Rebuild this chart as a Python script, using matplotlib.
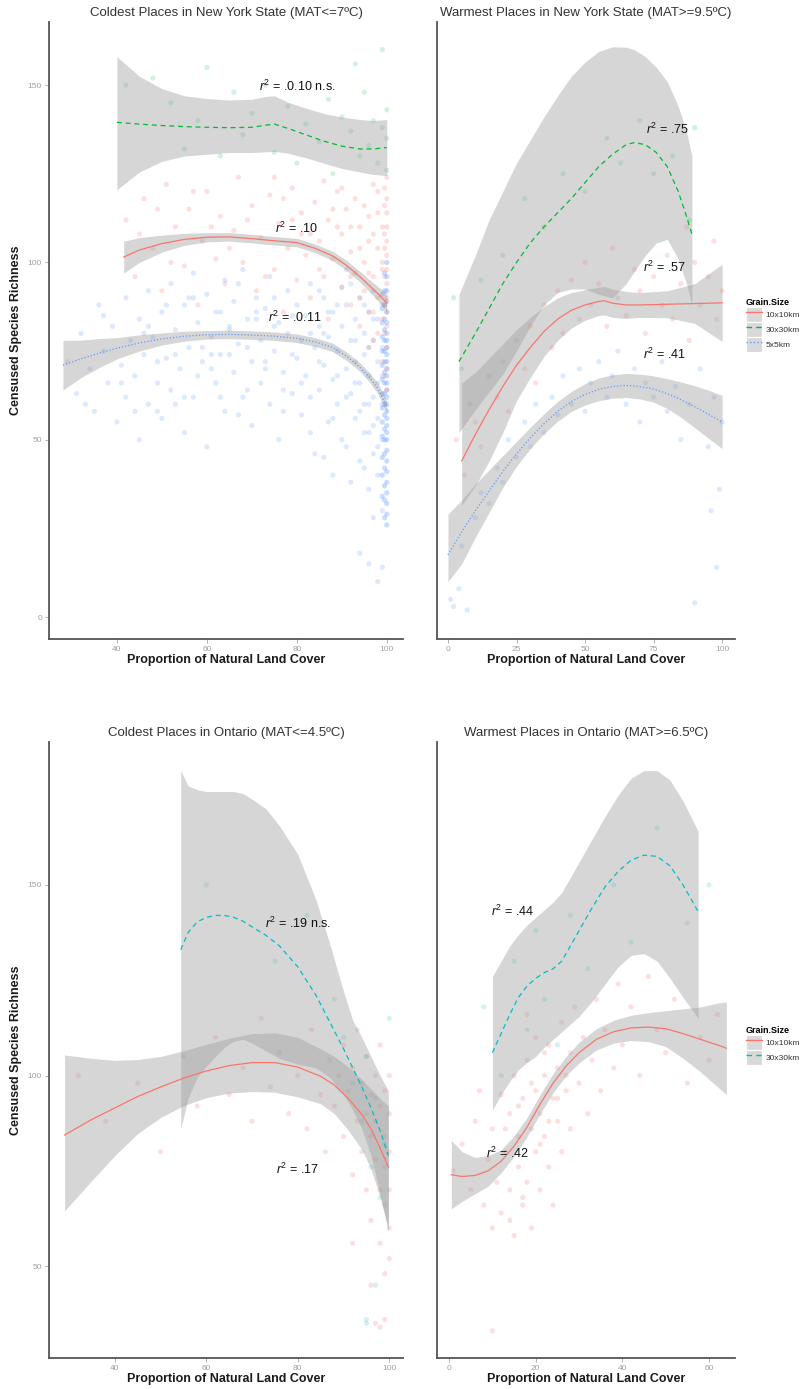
import matplotlib
matplotlib.use("Agg")
import matplotlib.pyplot as plt
from matplotlib.patches import Rectangle
from matplotlib.lines import Line2D

plt.rcParams["font.family"] = ["Liberation Sans", "DejaVu Sans"]
plt.rcParams["mathtext.fontset"] = "custom"
plt.rcParams["mathtext.rm"] = "Liberation Sans"
plt.rcParams["mathtext.it"] = "Liberation Sans:italic"

RED, GREEN, BLUE, CYAN = "#F8766D", "#00BA38", "#619CFF", "#00BFC4"

# ---------------- Coldest places, New York State ----------------
nyc_5_x = [29, 31, 32, 34, 35, 36, 37, 38, 39, 40, 41, 42, 42, 43, 44, 45, 45, 46, 47, 47,
           48, 49, 50, 50, 51, 52, 52, 53, 54, 55, 55, 56, 57, 57, 58, 59, 60, 60, 61, 62,
           62, 63, 64, 64, 65, 66, 66, 67, 68, 68, 69, 70, 70, 71, 72, 72, 73, 74, 74, 75,
           76, 76, 77, 78, 78, 79, 80, 80, 81, 82, 82, 83, 84, 84, 85, 85, 86, 86, 87, 87,
           88, 88, 89, 89, 90, 90, 90, 91, 91, 92, 92, 93, 93, 93, 94, 94, 94, 95, 95, 95,
           96, 96, 96, 96, 97, 97, 97, 97, 98, 98, 98, 98, 98, 99, 99, 99, 99, 99, 99, 94,
           96, 98, 99, 92, 95, 97, 91, 88, 86, 83,
           33, 37, 41, 44, 46, 49, 53, 56, 58, 61, 63, 65, 67, 69, 71, 73, 75, 77, 79, 81,
           83, 85, 86, 88, 89, 91, 92, 93, 94, 95, 96, 97, 98, 97, 96, 95, 93, 91, 89, 87,
           85, 83, 81, 79, 77, 75, 73, 71, 69, 67, 65, 63, 61, 59, 57, 55, 53, 51, 49, 47]
nyc_5_y = [72, 63, 80, 70, 58, 88, 75, 66, 82, 55, 71, 90, 62, 78, 68, 84, 50, 74, 92, 60,
           79, 66, 86, 56, 73, 94, 64, 81, 70, 88, 52, 76, 97, 62, 83, 72, 91, 48, 79, 66,
           86, 74, 95, 58, 81, 69, 89, 77, 62, 98, 84, 72, 54, 90, 78, 66, 87, 60, 96, 75,
           83, 50, 69, 92, 80, 63, 88, 73, 57, 85, 68, 94, 76, 46, 82, 64, 90, 71, 55, 79,
           86, 67, 75, 60, 93, 82, 50, 70, 88, 63, 78, 84, 56, 72, 90, 66, 44, 80, 60, 74,
           86, 52, 68, 36, 78, 62, 92, 46, 72, 84, 56, 66, 40, 76, 60, 88, 50, 68, 30, 18,
           15, 10, 14, 38, 42, 28, 48, 40, 45, 52,
           60, 85, 66, 58, 80, 72, 60, 90, 68, 74, 62, 82, 57, 76, 86, 72, 90, 64, 85, 78,
           62, 72, 80, 56, 88, 62, 94, 66, 58, 52, 76, 84, 48, 54, 60, 88, 78, 98, 68, 86,
           92, 80, 66, 74, 58, 82, 70, 84, 64, 94, 74, 86, 70, 76, 90, 62, 74, 88, 58, 82]
nyc_5_edge_x = [100, 100, 100, 100, 100, 100, 100, 100, 100, 100, 100, 100, 100, 100, 100,
                100, 100, 100, 100, 100, 100, 100, 100, 100, 100, 100, 100, 100, 100, 100,
                99.5, 99.5, 99.5, 99.5, 99.5, 99.5, 99.5, 99.5, 99.5, 99.5, 99.5, 99.5,
                99.5, 99.5, 99.5, 99.5, 99.5, 99.5, 99.5, 99.5,
                99, 99, 99, 99, 99, 99, 99, 99, 99, 99, 99, 99, 99, 99]
nyc_5_edge_y = [26, 29, 32, 35, 38, 41, 44, 47, 50, 52, 54, 56, 58, 60, 62,
                64, 66, 68, 70, 72, 74, 76, 78, 80, 83, 86, 89, 92, 96, 100,
                28, 33, 37, 42, 46, 50, 53, 57, 60, 63, 66, 69, 72, 75, 78, 81,
                84, 88, 92, 97,
                34, 40, 45, 51, 55, 59, 63, 67, 71, 75, 79, 83, 87, 91]

nyc_10_x = [42, 44, 46, 48, 50, 51, 53, 55, 56, 58, 59, 60, 62, 63, 64, 66, 67, 68, 70, 71,
            72, 74, 75, 76, 77, 78, 79, 80, 81, 82, 83, 84, 85, 86, 87, 87, 88, 89, 90, 90,
            91, 92, 92, 93, 93, 94, 94, 95, 95, 96, 96, 96, 97, 97, 97, 98, 98, 98, 99, 99,
            99, 99, 100, 100, 100, 100, 100, 100, 100, 100, 100, 100, 100, 100, 100, 100,
            99.5, 99.5, 99.5, 99.5, 99.5, 99.5, 99.5, 99.5,
            45, 49, 52, 57, 61, 65, 69, 73, 77, 81, 85, 88, 90, 92, 94, 95, 96, 97, 98, 99,
            98, 97, 96, 94, 92, 89, 86, 83, 79, 75]
nyc_10_y = [112, 96, 118, 104, 92, 122, 110, 99, 115, 88, 106, 120, 101, 113, 94, 109, 124,
            100, 116, 92, 107, 119, 98, 111, 86, 104, 121, 95, 114, 102, 90, 117, 106, 96,
            112, 84, 101, 120, 93, 108, 115, 88, 103, 97, 118, 110, 82, 100, 92, 113, 86, 106,
            96, 122, 78, 104, 90, 114, 84, 98, 110, 72, 64, 70, 76, 82, 86, 90, 94, 98, 102,
            106, 110, 114, 118, 124, 68, 80, 88, 96, 104, 108, 116, 121,
            108, 115, 100, 120, 110, 104, 112, 96, 118, 108, 98, 115, 121, 110, 104, 116, 97,
            108, 120, 100, 80, 86, 76, 90, 96, 110, 123, 108, 112, 124]

nyc_30_x = [42, 48, 52, 55, 58, 60, 63, 66, 68, 70, 73, 75, 78, 80, 82, 85, 87, 88, 90, 92,
            94, 95, 96, 97, 98, 99, 100, 100, 100, 99, 93]
nyc_30_y = [150, 152, 145, 132, 140, 155, 130, 148, 136, 142, 150, 131, 144, 128, 139, 134,
            146, 125, 141, 137, 130, 148, 133, 140, 128, 138, 135, 143, 126, 160, 156]

# smoothed fits with confidence bands: x, fit, lower, upper
nyc_30_fx = [40, 45, 50, 55, 60, 65, 70, 73, 75, 78, 82, 86, 90, 94, 97, 100]
nyc_30_fy = [139.5, 139.0, 138.6, 138.3, 138.1, 138.0, 138.1, 138.7, 139.0, 137.8, 136.0,
             134.2, 132.8, 132.0, 132.0, 132.4]
nyc_30_lo = [120.5, 125.5, 128.5, 130.0, 130.5, 131.0, 131.0, 131.2, 131.3, 130.8, 129.5,
             128.0, 126.5, 125.5, 124.8, 124.5]
nyc_30_hi = [158.0, 152.5, 149.0, 147.0, 146.2, 145.8, 146.0, 146.8, 147.0, 145.2, 143.5,
             142.0, 141.0, 140.3, 140.0, 140.3]

nyc_10_fx = [41.5, 45, 50, 55, 60, 65, 70, 75, 80, 84, 88, 91, 94, 96, 98, 100]
nyc_10_fy = [101.5, 103.5, 105.3, 106.5, 107.1, 107.2, 106.7, 106.1, 105.6, 104.0, 101.8,
             99.2, 96.0, 93.6, 91.2, 88.6]
nyc_10_lo = [97.0, 100.0, 102.9, 104.8, 105.8, 106.0, 105.5, 104.9, 104.4, 102.8, 100.5,
             97.8, 94.5, 91.9, 89.2, 86.0]
nyc_10_hi = [106.0, 107.0, 107.7, 108.2, 108.4, 108.4, 107.9, 107.3, 106.8, 105.2, 103.1,
             100.6, 97.5, 95.3, 93.2, 91.2]

nyc_5_fx = [28, 32, 36, 40, 45, 50, 55, 60, 65, 70, 75, 80, 84, 88, 91, 94, 96, 98, 100]
nyc_5_fy = [71.0, 72.8, 74.4, 75.8, 77.3, 78.4, 79.2, 79.6, 79.7, 79.5, 79.2, 78.6, 77.6,
            76.0, 73.6, 70.5, 67.8, 64.5, 59.2]
nyc_5_lo = [64.0, 67.5, 70.3, 72.8, 75.0, 76.7, 77.8, 78.4, 78.5, 78.3, 78.0, 77.4, 76.4,
            74.8, 72.4, 69.3, 66.5, 63.0, 57.5]
nyc_5_hi = [78.0, 78.1, 78.5, 78.8, 79.6, 80.1, 80.6, 80.8, 80.9, 80.7, 80.4, 79.8, 78.8,
            77.2, 74.8, 71.7, 69.1, 66.0, 60.9]

# ---------------- Warmest places, New York State ----------------
nyw_5_x = [1, 2, 4, 7, 5, 10, 12, 15, 18, 20, 22, 25, 28, 30, 32, 35, 38, 40, 42, 45, 48, 50,
           52, 55, 58, 60, 62, 65, 68, 70, 72, 75, 78, 80, 83, 85, 88, 90, 92, 95, 97, 98,
           100, 96, 99]
nyw_5_y = [5, 3, 8, 2, 20, 28, 35, 32, 42, 38, 50, 45, 55, 48, 60, 52, 62, 57, 68, 60, 70, 58,
           66, 72, 62, 68, 75, 60, 70, 55, 66, 62, 72, 58, 65, 50, 60, 4, 70, 48, 62, 14, 55,
           30, 36]
nyw_10_x = [3, 6, 8, 10, 12, 15, 18, 20, 22, 25, 28, 30, 32, 35, 38, 40, 42, 45, 48, 50, 52,
            55, 58, 60, 62, 65, 68, 70, 72, 75, 78, 80, 82, 85, 88, 90, 92, 95, 98, 100, 97,
            87]
nyw_10_y = [50, 40, 60, 55, 48, 68, 62, 72, 58, 78, 70, 82, 66, 88, 76, 92, 80, 95, 84, 100,
            88, 94, 82, 104, 90, 85, 98, 92, 80, 96, 88, 102, 84, 94, 78, 100, 88, 96, 84, 92,
            106, 110]
nyw_30_x = [2, 5, 12, 20, 28, 35, 42, 50, 58, 63, 70, 75, 82, 88, 90]
nyw_30_y = [90, 70, 95, 102, 118, 110, 125, 120, 135, 128, 140, 125, 130, 112, 138]

nyw_30_fx = [4, 10, 15, 20, 25, 30, 35, 40, 45, 50, 55, 60, 65, 68, 72, 76, 80, 84, 87, 89]
nyw_30_fy = [72, 80, 87, 94, 100, 105.5, 110, 114, 118, 122.5, 127, 130.5, 133.2, 133.8,
             133.2, 131, 127, 120, 113, 108]
nyw_30_lo = [52, 58.5, 63.5, 68.5, 75, 82, 88, 91.5, 92.5, 92.5, 91, 90, 94, 97.5, 102, 105.5,
             106.5, 101, 94, 88]
nyw_30_hi = [91, 102, 112, 120, 128, 134.5, 141, 147, 152.5, 156.5, 159.5, 160.8, 160.7, 160,
             158, 155, 151, 144, 137, 130]

nyw_10_fx = [5, 10, 15, 20, 25, 30, 35, 40, 45, 50, 55, 57, 60, 65, 70, 80, 90, 100]
nyw_10_fy = [44, 51.5, 58.5, 65, 71, 76, 80.5, 84, 86.5, 88, 89, 89.2, 88.5, 88, 88, 88.2,
             88.4, 88.6]
nyw_10_lo = [31.5, 37, 44, 52, 61, 67.5, 73.5, 78, 81.5, 83.7, 85, 85.2, 84.5, 84.2, 84.5,
             84.4, 82.8, 77.7]
nyw_10_hi = [66, 69, 73, 77, 81, 84.5, 87.5, 90, 91.5, 92.3, 93, 93.2, 92.5, 91.8, 91.5, 92,
             94, 99.5]

nyw_5_fx = [0, 5, 10, 15, 20, 25, 30, 35, 40, 45, 50, 55, 60, 65, 70, 75, 80, 85, 90, 95, 100]
nyw_5_fy = [17.5, 24, 30, 35.5, 41, 46, 50.5, 54.5, 58, 60.8, 62.8, 64.2, 65, 65.3, 65, 64.3,
            63, 61.3, 59.3, 57.2, 55]
nyw_5_lo = [10, 15, 22.5, 29.5, 36.5, 42.5, 47.5, 51.7, 55.2, 58, 59.8, 61, 61.7, 61.9, 61.5,
            60.6, 58.8, 56.3, 53.4, 50.4, 47.5]
nyw_5_hi = [29, 33, 37.5, 41.5, 45.5, 49.5, 53.5, 57.3, 60.8, 63.6, 65.8, 67.4, 68.3, 68.7,
            68.5, 68, 67.2, 66.3, 65.2, 64, 62.5]

# ---------------- Coldest places, Ontario ----------------
onc_10_x = [32, 38, 45, 50, 55, 58, 62, 65, 68, 70, 72, 74, 76, 78, 80, 82, 83, 85, 86, 87,
            88, 89, 90, 90, 91, 92, 92, 93, 93, 94, 94, 95, 95, 95, 96, 96, 96, 97, 97, 97,
            98, 98, 98, 98, 99, 99, 99, 99, 99, 99, 100, 100, 100, 100, 100, 100, 97, 98, 96,
            92]
onc_10_y = [100, 88, 98, 80, 105, 92, 110, 95, 102, 88, 115, 97, 106, 90, 100, 86, 112, 95,
            80, 104, 92, 100, 84, 108, 96, 74, 102, 88, 112, 80, 98, 90, 70, 105, 84, 95, 62,
            100, 78, 88, 92, 70, 108, 56, 84, 96, 66, 76, 48, 36, 80, 90, 100, 60, 70, 52, 35,
            34, 45, 56]
onc_30_x = [60, 75, 82, 88, 90, 92, 94, 95, 96, 97, 98, 99, 95, 95, 97, 100]
onc_30_y = [150, 130, 142, 120, 110, 98, 88, 105, 76, 94, 68, 82, 36, 35, 45, 115]

onc_10_fx = [29, 35, 40, 45, 50, 55, 60, 65, 70, 75, 80, 85, 88, 91, 94, 96, 98, 99.8]
onc_10_fy = [84.4, 88.5, 91.5, 94.5, 97, 99.3, 101.2, 102.6, 103.4, 103.4, 102.2, 99.8, 97.5,
             94, 89.8, 86, 81, 76]
onc_10_lo = [64.5, 72.5, 79, 84.8, 89, 92.1, 94.2, 95.4, 95.8, 95.6, 94.4, 92.6, 90, 85.7,
             80.6, 75.5, 68, 60]
onc_10_hi = [105.4, 104.5, 104, 104.2, 105, 106.5, 108.2, 109.8, 111, 111.2, 110, 107, 105,
             102.3, 99, 96.5, 94, 92]

onc_30_fx = [54.4, 56, 58, 60, 62, 64, 66, 68, 70, 73, 76, 80, 84, 87, 90, 92, 94, 96, 98,
             99.8]
onc_30_fy = [133, 137.5, 140.3, 141.5, 142, 142, 141.5, 140.5, 139, 136.8, 134, 128.5, 121,
             114, 107, 102, 97, 91.5, 85.5, 79]
onc_30_lo = [86, 94, 99.5, 102.5, 105, 107.5, 109, 109.5, 108.5, 106.5, 104.5, 103, 102, 99.5,
             95, 91, 86, 79, 69, 59]
onc_30_hi = [180, 176, 175, 174.5, 174.5, 174.5, 174.5, 174, 172.5, 170, 165.5, 158, 146,
             134.5, 122, 114.5, 110, 105, 100, 96]

# ---------------- Warmest places, Ontario ----------------
onw_10_x = [1, 3, 5, 6, 8, 9, 10, 10, 11, 12, 12, 13, 14, 14, 15, 15, 16, 16, 17, 17, 18, 18,
            19, 19, 20, 20, 20, 21, 21, 22, 22, 23, 23, 24, 24, 25, 25, 26, 26, 27, 28, 28, 29,
            30, 31, 32, 33, 34, 35, 36, 38, 39, 40, 42, 44, 46, 48, 50, 52, 55, 58, 60, 62,
            10, 7, 18, 13, 16, 19, 21, 23, 25, 27, 14, 17, 22]
onw_10_y = [75, 82, 70, 88, 66, 78, 60, 86, 72, 95, 64, 80, 70, 90, 58, 100, 76, 84, 66, 94,
            72, 104, 86, 60, 80, 96, 110, 70, 90, 100, 84, 76, 108, 94, 66, 88, 102, 114, 80,
            96, 106, 86, 118, 98, 110, 90, 104, 120, 96, 112, 102, 124, 108, 118, 100, 126,
            112, 106, 120, 98, 110, 104, 116, 33, 96, 116, 86, 92, 98, 82, 88, 94, 100, 62,
            68, 106]
onw_30_x = [8, 12, 15, 18, 20, 22, 25, 28, 32, 38, 42, 48, 55, 60]
onw_30_y = [118, 100, 130, 112, 138, 120, 108, 142, 128, 150, 135, 165, 140, 150]

onw_10_fx = [0.5, 3, 6, 9, 12, 15, 18, 21, 24, 27, 30, 34, 38, 42, 46, 50, 54, 58, 62, 64]
onw_10_fy = [74, 73.5, 73.8, 75, 77.5, 81.5, 86.5, 92.5, 98, 102.5, 106, 109.5, 111.5, 112.5,
             112.7, 112.3, 111, 109.5, 108, 107.2]
onw_10_lo = [65, 67, 69, 71, 74.5, 78.8, 84, 90, 95.5, 100, 103.3, 106.7, 108.5, 109.2,
             108.9, 107.6, 104.5, 101, 97, 95]
onw_10_hi = [83, 80, 78.5, 79, 80.5, 84.2, 89, 95, 100.5, 105, 108.7, 112.3, 114.5, 115.8,
             116.5, 117, 117.5, 118, 119, 119.3]

onw_30_fx = [10, 12, 14, 16, 18, 20, 22, 24, 26, 28, 30, 33, 36, 39, 42, 45, 48, 51, 54, 57.5]
onw_30_fy = [106, 111, 116, 120.5, 123.5, 125.5, 127, 128, 130, 134, 138, 144, 149.5, 153.5,
             156.5, 157.8, 157.5, 155, 150, 143]
onw_30_lo = [91, 95, 98.5, 101.5, 103.5, 105, 107.5, 109.5, 111.5, 113.5, 115.5, 119.5, 124,
             128.5, 131.5, 132, 130, 125.5, 120.5, 115]
onw_30_hi = [126, 130, 134, 137, 139.5, 141.5, 143.5, 145.5, 148, 152, 156, 162, 168, 173.5,
             178, 180, 180, 177.5, 172, 164]

W, H = 803, 1389
fig = plt.figure(figsize=(W / 100, H / 100), dpi=100)


def make_axes(px_left, px_right, px_top, px_bottom):
    return fig.add_axes([px_left / W, 1 - px_bottom / H,
                         (px_right - px_left) / W, (px_bottom - px_top) / H])


def style(ax, xlim, ylim, xticks, yticks, title, ylabel=True):
    ax.set_xlim(*xlim)
    ax.set_ylim(*ylim)
    for s in ("top", "right"):
        ax.spines[s].set_visible(False)
    for s in ("left", "bottom"):
        ax.spines[s].set_color("#555555")
        ax.spines[s].set_linewidth(1.3)
    ax.set_xticks(xticks)
    ax.set_xticklabels([str(t) for t in xticks])
    ax.tick_params(axis="both", colors="#b0b0b0", labelcolor="#a0a0a0", labelsize=6,
                   length=3, width=0.7, pad=2)
    if yticks:
        ax.set_yticks(yticks)
        ax.set_yticklabels([str(t) for t in yticks])
    else:
        ax.set_yticks([])
    ax.set_title(title, fontsize=9.5, color="#333333", pad=4)
    ax.set_xlabel("Proportion of Natural Land Cover", fontsize=9, fontweight="bold",
                  color="#1a1a1a", labelpad=1)
    if ylabel:
        ax.set_ylabel("Censused Species Richness", fontsize=9, fontweight="bold",
                      color="#1a1a1a", labelpad=4)


def points(ax, x, y, color, alpha=0.22):
    ax.scatter(x, y, s=14, color=color, alpha=alpha, edgecolors="none", zorder=1)


def smooth(ax, fx, fy, lo, hi, color, ls):
    ax.fill_between(fx, lo, hi, color="#9a9a9a", alpha=0.4, linewidth=0, zorder=2)
    ax.plot(fx, fy, color=color, lw=0.9, ls=ls, zorder=3)


def r2(ax, x, y, txt):
    ax.text(x, y, r"$r^2$ = " + txt, fontsize=9, ha="center", va="center",
            color="#111111", zorder=4)


DASH = (0, (4, 3))
DOT = (0, (1, 1.6))

# top-left panel
ax1 = make_axes(49, 403, 22, 639)
points(ax1, nyc_5_x, nyc_5_y, BLUE)
points(ax1, nyc_5_edge_x, nyc_5_edge_y, BLUE, alpha=0.35)
points(ax1, nyc_10_x, nyc_10_y, RED)
points(ax1, nyc_30_x, nyc_30_y, GREEN, alpha=0.18)
smooth(ax1, nyc_30_fx, nyc_30_fy, nyc_30_lo, nyc_30_hi, GREEN, DASH)
smooth(ax1, nyc_10_fx, nyc_10_fy, nyc_10_lo, nyc_10_hi, RED, "-")
smooth(ax1, nyc_5_fx, nyc_5_fy, nyc_5_lo, nyc_5_hi, BLUE, DOT)
r2(ax1, 80, 149.5, ".0.10 n.s.")
r2(ax1, 80, 109.5, ".10")
r2(ax1, 79.5, 84.5, ".0.11")
style(ax1, (24.9, 103.6), (-6.2, 167.8), [40, 60, 80, 100], [0, 50, 100, 150],
      "Coldest Places in New York State (MAT<=7ºC)")

# top-right panel
ax2 = make_axes(437, 735, 22, 639)
points(ax2, nyw_5_x, nyw_5_y, BLUE)
points(ax2, nyw_10_x, nyw_10_y, RED)
points(ax2, nyw_30_x, nyw_30_y, GREEN, alpha=0.18)
smooth(ax2, nyw_30_fx, nyw_30_fy, nyw_30_lo, nyw_30_hi, GREEN, DASH)
smooth(ax2, nyw_10_fx, nyw_10_fy, nyw_10_lo, nyw_10_hi, RED, "-")
smooth(ax2, nyw_5_fx, nyw_5_fy, nyw_5_lo, nyw_5_hi, BLUE, DOT)
r2(ax2, 80, 137.5, ".75")
r2(ax2, 79, 98.5, ".57")
r2(ax2, 79, 74, ".41")
style(ax2, (-4, 104.7), (-6.2, 167.8), [0, 25, 50, 75, 100], None,
      "Warmest Places in New York State (MAT>=9.5ºC)", ylabel=False)

# bottom-left panel
ax3 = make_axes(49, 403, 742, 1358)
points(ax3, onc_10_x, onc_10_y, RED)
points(ax3, onc_30_x, onc_30_y, CYAN, alpha=0.18)
smooth(ax3, onc_10_fx, onc_10_fy, onc_10_lo, onc_10_hi, RED, "-")
smooth(ax3, onc_30_fx, onc_30_fy, onc_30_lo, onc_30_hi, CYAN, DASH)
r2(ax3, 80, 140, ".19 n.s.")
r2(ax3, 80, 75.5, ".17")
style(ax3, (25.6, 103), (25.9, 187.5), [40, 60, 80, 100], [50, 100, 150],
      "Coldest Places in Ontario (MAT<=4.5ºC)")

# bottom-right panel
ax4 = make_axes(437, 735, 742, 1358)
points(ax4, onw_10_x, onw_10_y, RED)
points(ax4, onw_30_x, onw_30_y, CYAN, alpha=0.18)
smooth(ax4, onw_10_fx, onw_10_fy, onw_10_lo, onw_10_hi, RED, "-")
smooth(ax4, onw_30_fx, onw_30_fy, onw_30_lo, onw_30_hi, CYAN, DASH)
r2(ax4, 14.6, 143, ".44")
r2(ax4, 13.4, 79.5, ".42")
style(ax4, (-2.8, 66), (25.9, 187.5), [0, 20, 40, 60], None,
      "Warmest Places in Ontario (MAT>=6.5ºC)", ylabel=False)


def key(color, ls):
    box = Rectangle((0, 0), 1, 1, facecolor="#d9d9d9", edgecolor="white", linewidth=0.8)
    line = Line2D([], [], color=color, ls=ls, lw=1.0)
    return (box, line)


for labels, colors, styles, ytop in (
        (["10x10km", "30x30km", "5x5km"], [RED, GREEN, BLUE], ["-", DASH, DOT], 296),
        (["10x10km", "30x30km"], [RED, CYAN], ["-", DASH], 1024)):
    leg = fig.legend([key(c, s) for c, s in zip(colors, styles)], labels,
                     loc="upper left", bbox_to_anchor=(744 / W, 1 - ytop / H),
                     frameon=False, fontsize=6, title="Grain.Size",
                     title_fontproperties={"size": 6.5, "weight": "bold"},
                     handlelength=2.0, handleheight=2.4, labelspacing=0.0,
                     handletextpad=0.4, borderpad=0.2, borderaxespad=0)
    leg._legend_box.align = "left"
    for t in leg.get_texts():
        t.set_color("#333333")

fig.savefig("out.png", dpi=100, facecolor="white")
